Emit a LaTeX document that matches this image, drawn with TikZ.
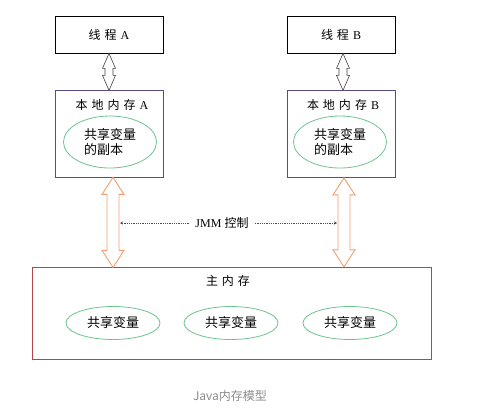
\documentclass[tikz,border=0pt]{standalone}
\usepackage{fontspec}
\setmainfont{Liberation Serif}
\newfontfamily\cjk{Noto Sans CJK SC}
\usetikzlibrary{shapes.geometric,calc,arrows.meta}
\definecolor{boxpurple}{HTML}{5B4B8A}
\definecolor{memred}{HTML}{B5454B}
\definecolor{vargreen}{HTML}{6CC38F}
\definecolor{arroworange}{HTML}{F2A072}
\newcommand\gap{\hspace{4pt}}
\tikzset{
  thread/.style={draw,line width=0.8pt,minimum width=108pt,minimum height=37pt,font=\fontsize{12}{14}\selectfont},
  local/.style={draw=boxpurple,line width=0.8pt,minimum width=108pt,minimum height=87pt},
  var/.style={ellipse,draw=vargreen,line width=0.8pt,minimum width=94pt,minimum height=33pt,font=\cjk\fontsize{13}{15}\selectfont},
  pics/hollow/.style n args={4}{code={
    \path[pic actions] (0,0) -- (#1,#3) -- (#2,#3) -- (#2,#4-#3) -- (#1,#4-#3) -- (0,#4)
      -- (-#1,#4-#3) -- (-#2,#4-#3) -- (-#2,#3) -- (-#1,#3) -- cycle;}},
  grayarrow/.style={draw=black!75,fill=white,line width=0.6pt},
  orangearrow/.style={draw=arroworange,fill=white,line width=0.9pt},
  ctrl/.style={densely dotted,line width=0.8pt,black!70,-{Stealth[length=3pt,width=3pt]}}
}
\begin{document}
\begin{tikzpicture}[x=1pt,y=-1pt]
\useasboundingbox (0,0) rectangle (482,410);
% threads
\node (ta) [thread] at (109,34.5) {{\cjk 线\gap 程}\gap A};
\node (tb) [thread] at (341,34.5) {{\cjk 线\gap 程}\gap B};
% local memory
\node (la) [local] at (109,133.5) {};
\node (lb) [local] at (341.5,134) {};
\node (laname) at (112,105) [font=\fontsize{12}{14}\selectfont] {{\cjk 本\gap 地\gap 内\gap 存}\gap A};
\node (lbname) at (343,105) [font=\fontsize{12}{14}\selectfont] {{\cjk 本\gap 地\gap 内\gap 存}\gap B};
\node (va) [var,minimum width=93pt,minimum height=52pt,align=left] at (110,142) {共享变量\\的副本};
\node (vb) [var,minimum width=93pt,minimum height=52pt,align=left] at (340,142) {共享变量\\的副本};
% main memory
\node (mem) [draw=memred,line width=0.8pt,minimum width=399pt,minimum height=92pt] at (231.5,313) {};
\node (memname) at (228,281) [font=\cjk\fontsize{12}{14}\selectfont] {主\gap 内\gap 存};
\node (v1) [var] at (113,323) {共享变量};
\node (v2) [var] at (231,323) {共享变量};
\node (v3) [var] at (350,323) {共享变量};
% arrows
\pic[grayarrow] at (ta.south) {hollow={6.5}{4}{15}{37}};
\pic[grayarrow] at ($(tb.south)+(2,0)$) {hollow={6.5}{4}{15}{37}};
\pic[orangearrow] at ($(la.south)+(4,0)$) {hollow={11}{6}{17}{90}};
\pic[orangearrow] at ($(lb.south)+(2.5,0)$) {hollow={11}{6}{17}{89}};
% JMM control
\node (jmm) [inner sep=6pt,font=\fontsize{12}{14}\selectfont] at (222,223) {JMM {\cjk 控制}};
\coordinate (jl) at (120,223);
\coordinate (jr) at (337,223);
\draw[ctrl] (jmm.west) -- (jl);
\draw[ctrl] (jmm.east) -- (jr);
\node (cap) at (230,396) [text=black!45,font=\cjk\fontsize{12}{14}\selectfont] {Java内存模型};
\end{tikzpicture}
\end{document}
